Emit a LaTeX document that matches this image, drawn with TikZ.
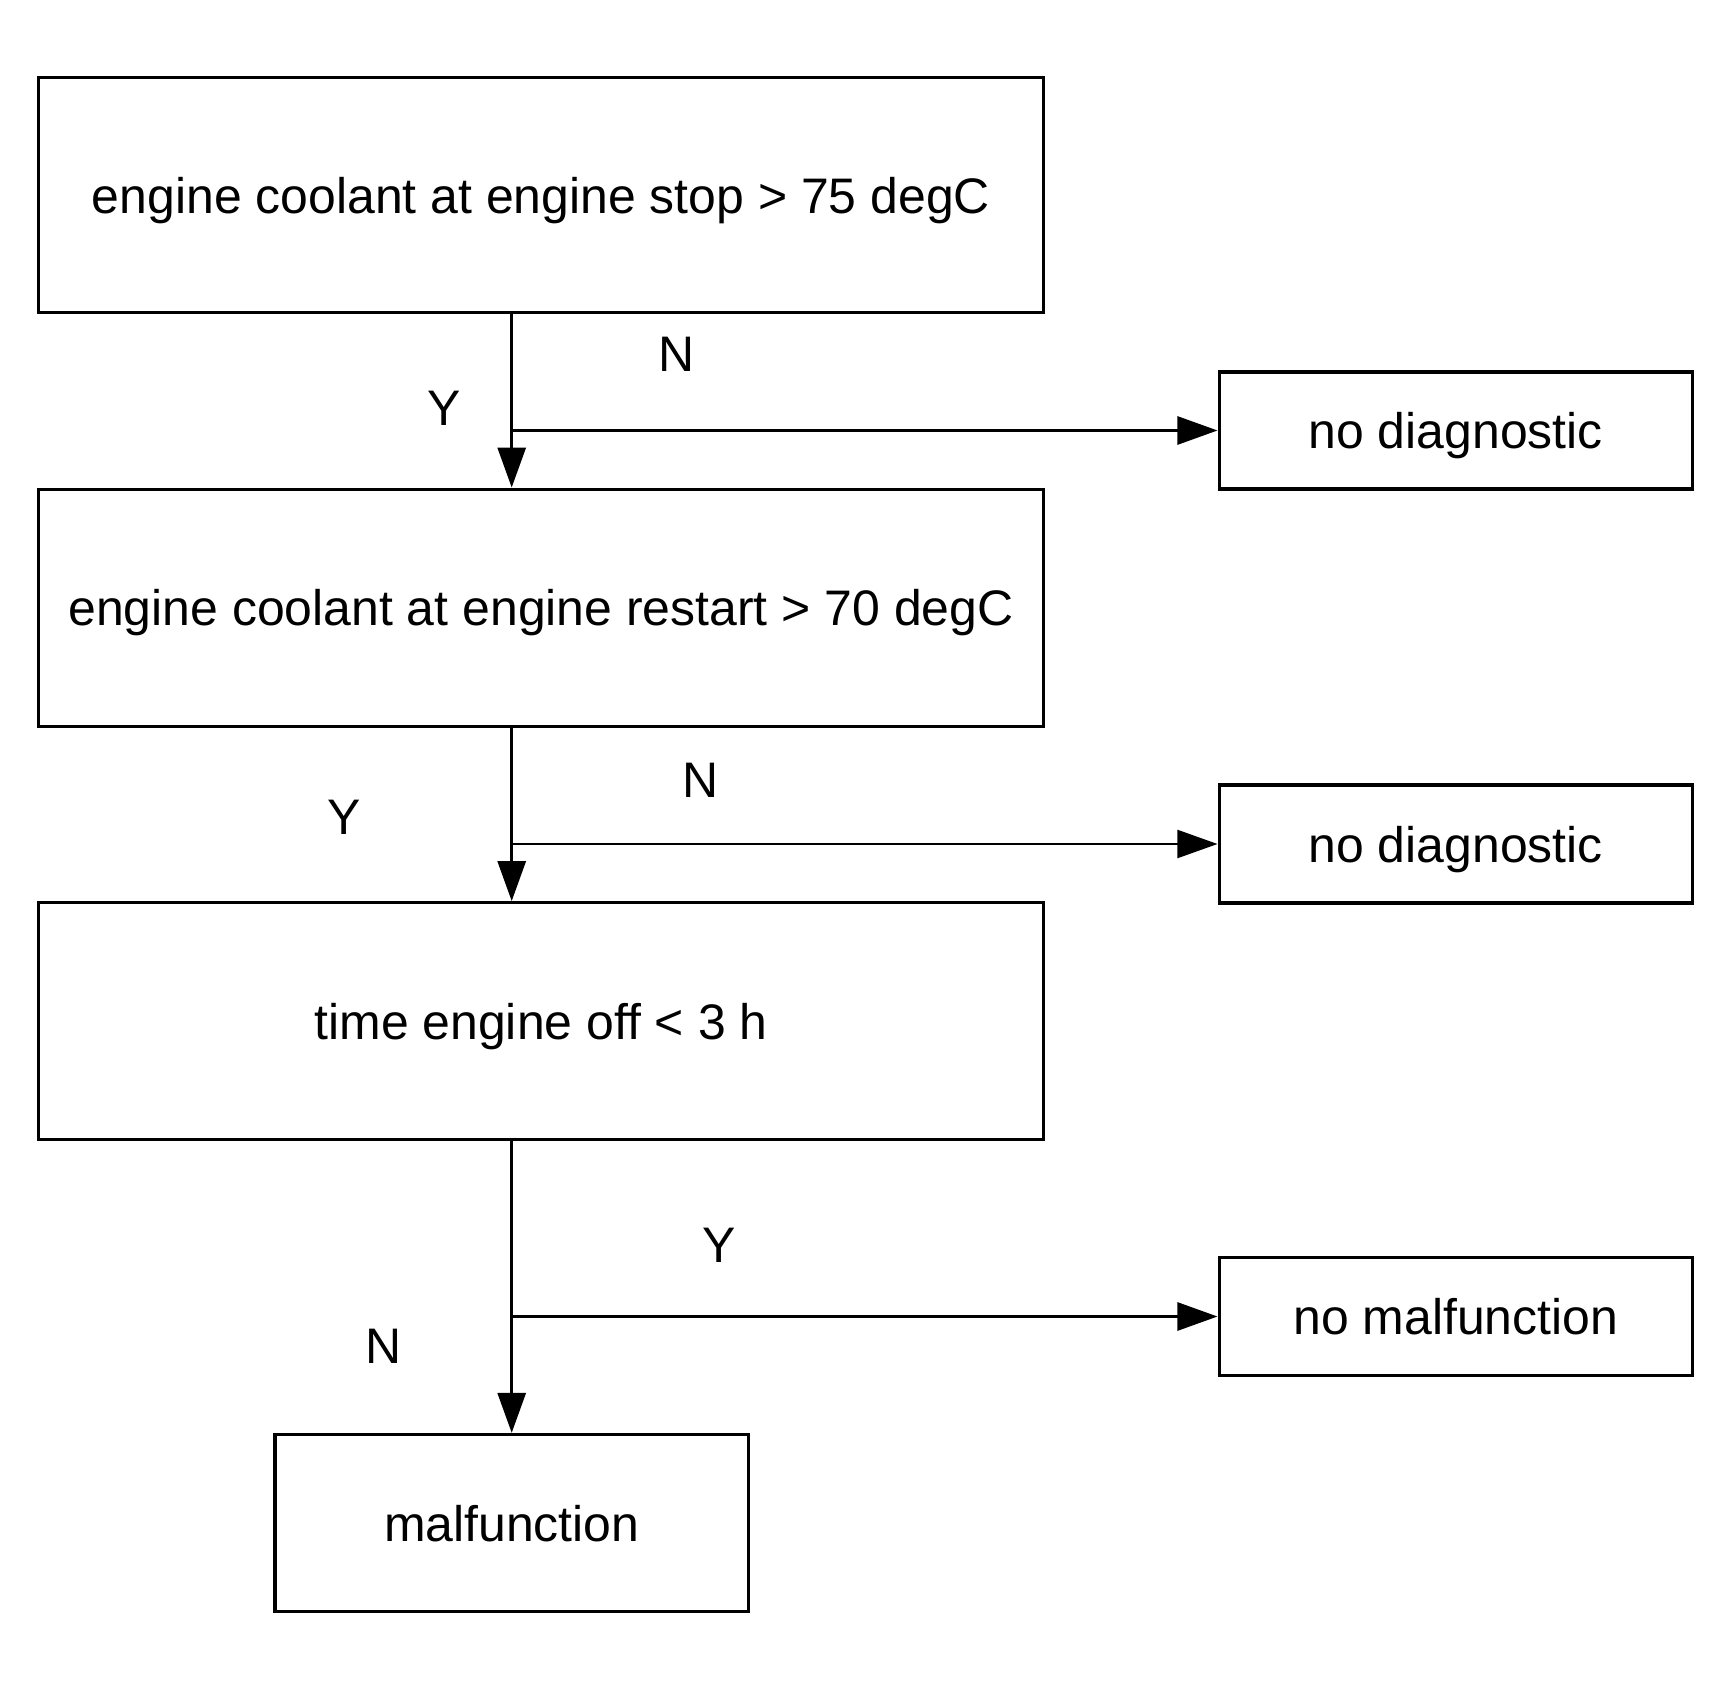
\documentclass[tikz,border=0pt]{standalone}
\usepackage{fontspec}
\setmainfont{Liberation Sans}
\usetikzlibrary{arrows.meta}

\begin{document}
\begin{tikzpicture}[x=0.01cm,y=-0.01cm,
  box/.style={draw=black, line width=0.9pt, rectangle, inner sep=0pt, text depth=0pt, align=center, font=\fontsize{14.2}{17}\selectfont},
  lbl/.style={inner sep=0pt, font=\fontsize{14.2}{17}\selectfont},
  flow/.style={line width=0.85pt, -{Triangle[length=0.4cm,width=0.28cm]}}]
\useasboundingbox (0,0) rectangle (1731,1689);

\node[box, minimum width=10.04cm, minimum height=2.35cm] (stop) at (541,195) {engine coolant at engine stop > 75 degC};
\node[box, minimum width=10.04cm, minimum height=2.37cm] (restart) at (541,607.7) {engine coolant at engine restart > 70 degC};
\node[box, minimum width=10.04cm, minimum height=2.365cm] (off) at (541,1021) {time engine off < 3 h};
\node[box, minimum width=4.73cm, minimum height=1.77cm] (mal) at (511.7,1523) {malfunction};

\node[box, minimum width=4.73cm, minimum height=1.17cm] (nodiag1) at (1455.7,430.5) {no diagnostic};
\node[box, minimum width=4.73cm, minimum height=1.18cm] (nodiag2) at (1455.7,844) {no diagnostic};
\node[box, minimum width=4.73cm, minimum height=1.18cm] (nomal) at (1455.7,1316.5) {no malfunction};

\draw[flow] (stop.south -| mal.north) -- (restart.north -| mal.north);
\draw[flow] (restart.south -| mal.north) -- (off.north -| mal.north);
\draw[flow] (off.south -| mal.north) -- (mal.north);

\draw[flow, line width=0.77pt] (nodiag1.west -| mal.north) -- (nodiag1.west);
\draw[flow, line width=0.57pt] (nodiag2.west -| mal.north) -- (nodiag2.west);
\draw[flow, line width=0.77pt] (nomal.west -| mal.north) -- (nomal.west);

\node[lbl] (n1) at (677,354) {N};
\node[lbl] (y1) at (444,408) {Y};
\node[lbl] (n2) at (701,780.5) {N};
\node[lbl] (y2) at (344.4,817) {Y};
\node[lbl] (y3) at (719,1245) {Y};
\node[lbl] (n3) at (383.5,1346) {N};

\end{tikzpicture}
\end{document}
